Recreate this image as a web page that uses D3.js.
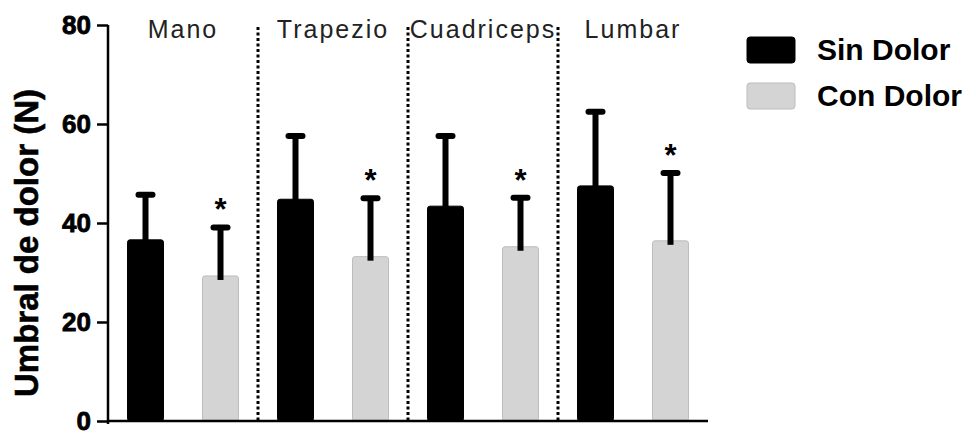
<!DOCTYPE html>
<html>
<head>
  <meta charset="utf-8">
  <style>
    body { margin: 0; background: #fff; }
    text { font-family: "Liberation Sans", Arial, Helvetica, sans-serif; }
  </style>
</head>
<body>
  <script src="https://cdn.jsdelivr.net/npm/d3@7"></script>
  <script>
    // data
    var categories = ["Mano", "Trapezio", "Cuadriceps", "Lumbar"]
    var sinDolor = [36.6, 44.8, 43.4, 47.5]
    var sinDolorSD = [9.1, 12.8, 14.2, 15.0]
    var conDolor = [29.3, 33.2, 35.2, 36.4]
    var conDolorSD = [9.8, 11.8, 9.9, 13.7]
    var significant = [true, true, true, true]
    var seriesNames = ["Sin Dolor", "Con Dolor"]
    var yTicks = [0, 20, 40, 60, 80]

    var w = 976
    var h = 436
    // note: "top" is taken by window.top, so use plot* names
    var plotLeft = 108, plotRight = 708, plotTop = 25, plotBottom = 421

    var colors = ["#000000", "#d4d4d4"]
    var strokes = ["#000000", "#bdbdbd"]

    var svg = d3.select("body")
                .append("svg")
                .attr("width", w)
                .attr("height", h)

    // one slot per bar: Mano-Sin, Mano-Con, Trapezio-Sin ...
    var slots = []
    categories.forEach(function (c, i) {
      slots.push({ cat: c, s: 0, v: sinDolor[i], sd: sinDolorSD[i], sig: false })
      slots.push({ cat: c, s: 1, v: conDolor[i], sd: conDolorSD[i], sig: significant[i] })
    })

    var x = d3.scaleBand()
              .domain(d3.range(slots.length))
              .range([plotLeft, plotRight])
              .paddingInner(0.52)
              .paddingOuter(0.26)

    var y = d3.scaleLinear()
              .domain([0, 80])
              .range([plotBottom, plotTop])

    var step = x.step()

    // dotted separators between muscle groups
    svg.selectAll("line.sep")
       .data(d3.range(1, categories.length))
       .enter()
       .append("line")
       .attr("class", "sep")
       .attr("x1", function (d) { return plotLeft + d * 2 * step })
       .attr("x2", function (d) { return plotLeft + d * 2 * step })
       .attr("y1", y(80) + 2)
       .attr("y2", y(0))
       .attr("stroke", "#000")
       .attr("stroke-width", 3)
       .attr("stroke-dasharray", "3,2.5")

    // bars
    svg.selectAll("rect.bar")
       .data(slots)
       .enter()
       .append("rect")
       .attr("class", "bar")
       .attr("x", function (d, i) { return x(i) })
       .attr("y", function (d) { return y(d.v) })
       .attr("width", x.bandwidth())
       .attr("height", function (d) { return y(0) - y(d.v) })
       .attr("rx", 2.5)
       .attr("fill", function (d) { return colors[d.s] })
       .attr("stroke", function (d) { return strokes[d.s] })
       .attr("stroke-width", 1)

    // error bars (upper only)
    var err = svg.selectAll("g.err")
                 .data(slots)
                 .enter()
                 .append("g")
                 .attr("class", "err")

    err.append("line")
       .attr("x1", function (d, i) { return x(i) + x.bandwidth() / 2 })
       .attr("x2", function (d, i) { return x(i) + x.bandwidth() / 2 })
       .attr("y1", function (d) { return y(d.v) + 4 })
       .attr("y2", function (d) { return y(d.v + d.sd) })
       .attr("stroke", "#000")
       .attr("stroke-width", 6)

    err.append("line")
       .attr("x1", function (d, i) { return x(i) + x.bandwidth() / 2 - 7 })
       .attr("x2", function (d, i) { return x(i) + x.bandwidth() / 2 + 7 })
       .attr("y1", function (d) { return y(d.v + d.sd) })
       .attr("y2", function (d) { return y(d.v + d.sd) })
       .attr("stroke", "#000")
       .attr("stroke-width", 6)
       .attr("stroke-linecap", "round")

    // significance stars
    svg.selectAll("text.star")
       .data(slots.filter(function (d) { return d.sig }))
       .enter()
       .append("text")
       .attr("class", "star")
       .attr("x", function (d) { return x(slots.indexOf(d)) + x.bandwidth() / 2 })
       .attr("y", function (d) { return y(d.v + d.sd) - 7 })
       .attr("text-anchor", "middle")
       .attr("font-size", 31)
       .attr("font-weight", "bold")
       .text("*")

    // category labels at the top of each group
    svg.selectAll("text.cat")
       .data(categories)
       .enter()
       .append("text")
       .attr("class", "cat")
       .attr("x", function (d, i) { return plotLeft + (2 * i + 1) * step })
       .attr("y", 38)
       .attr("text-anchor", "middle")
       .attr("font-size", 25)
       .attr("letter-spacing", 2)
       .attr("fill", "#222")
       .text(function (d) { return d })

    // axes
    var yAxis = d3.axisLeft(y)
                  .tickValues(yTicks)
                  .tickSize(11)
                  .tickPadding(6)
    var gy = svg.append("g")
                .attr("transform", "translate(" + plotLeft + ",0)")
                .call(yAxis)
    gy.select(".domain")
      .attr("d", "M0," + plotTop + "V" + (plotBottom + 3))
      .attr("stroke-width", 2.5)
    gy.selectAll(".tick line").attr("stroke-width", 2.5)
    // heavier digits, the original uses a black-weight face
    gy.selectAll(".tick text")
      .attr("font-size", 26)
      .attr("font-weight", "bold")
      .attr("font-family", "Liberation Sans, Arial, sans-serif")
      .attr("fill", "#000")
      .attr("stroke", "#000")
      .attr("stroke-width", 0.8)

    svg.append("line")
       .attr("x1", plotLeft)
       .attr("x2", plotRight)
       .attr("y1", y(0))
       .attr("y2", y(0))
       .attr("stroke", "#000")
       .attr("stroke-width", 2.5)

    // y label
    svg.append("text")
       .attr("transform", "translate(38," + ((plotTop + plotBottom) / 2 + 20) + ") rotate(-90)")
       .attr("text-anchor", "middle")
       .attr("font-size", 33)
       .attr("font-weight", "bold")
       .attr("stroke", "#000")
       .attr("stroke-width", 0.6)
       .text("Umbral de dolor (N)")

    // legend
    var lg = svg.selectAll("g.legend")
                .data(seriesNames)
                .enter()
                .append("g")
                .attr("class", "legend")
                .attr("transform", function (d, i) { return "translate(747," + (37 + i * 46) + ")" })
    lg.append("rect")
      .attr("width", 48)
      .attr("height", 26)
      .attr("rx", 3)
      .attr("fill", function (d, i) { return colors[i] })
      .attr("stroke", function (d, i) { return strokes[i] })
    lg.append("text")
      .attr("x", 70)
      .attr("y", 23)
      .attr("font-size", 30)
      .attr("font-weight", "bold")
      .text(function (d) { return d })
  </script>
</body>
</html>
